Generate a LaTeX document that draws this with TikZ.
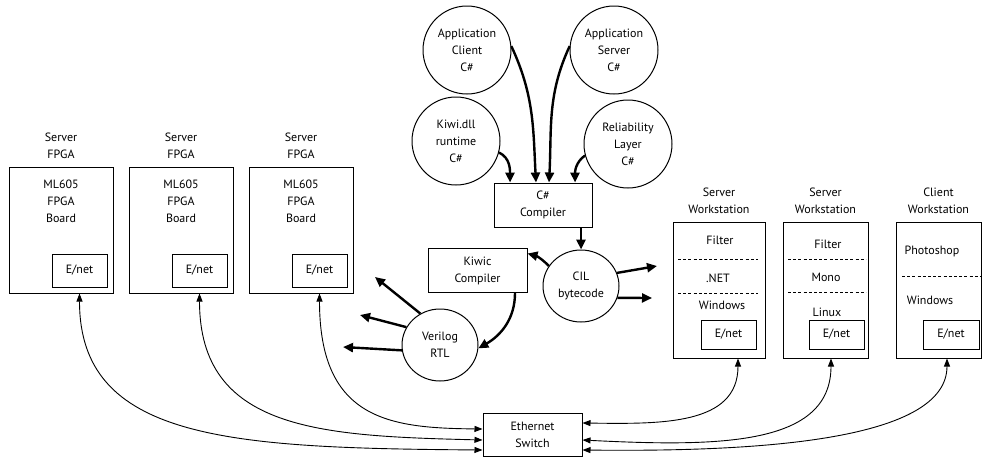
\documentclass[tikz,border=0pt]{standalone}
\usepackage{fontspec}
\setmainfont{PT Sans}
\usetikzlibrary{arrows.meta, positioning, shapes.geometric}

\tikzset{
  every node/.style={font=\fontsize{12}{17}\selectfont, inner sep=0pt},
  hostbox/.style={draw, line width=1pt},
  enetbox/.style={draw, line width=1pt, minimum width=55pt},
  toolbox/.style={draw, line width=1pt, align=center, minimum width=99pt, minimum height=44pt},
  srccircle/.style={draw, circle, line width=1pt, align=center, minimum size=88pt},
  codeblob/.style={draw, ellipse, line width=1pt, align=center, minimum width=76pt, minimum height=72pt},
  flow/.style={line width=2.4pt, -{Triangle[length=10pt,width=9pt]}},
  wire/.style={line width=0.9pt, {Triangle[length=8pt,width=6pt]}-{Triangle[length=8pt,width=6pt]}},
  layer/.style={line width=0.9pt, dash pattern=on 3pt off 2.2pt},
}

\begin{document}
\begin{tikzpicture}[x=1pt, y=-1pt]
  \useasboundingbox (0,0) rectangle (982,458);

  % FPGA servers
  \foreach \i/\x in {1/61, 2/181, 3/301} {
    \node[hostbox, minimum width=104pt, minimum height=126pt] (fpga\i) at (\x,230) {};
    \node[align=center, above=8pt of fpga\i] (fpgatitle\i) {Server\\FPGA};
    \node[align=center, below=13pt of fpga\i.north] (board\i) {ML605\\FPGA\\Board};
    \node[enetbox, minimum height=33pt, anchor=south east, xshift=-6pt, yshift=6pt] (fenet\i) at (fpga\i.south east) {E/net};
  }

  % C# sources and tool chain
  \node[srccircle] (appclient) at (467,50) {Application\\Client\\C\#};
  \node[srccircle] (appserver) at (614,50) {Application\\Server\\C\#};
  \node[srccircle] (kiwidll) at (456,141) {Kiwi.dll\\runtime\\C\#};
  \node[srccircle] (reliab) at (628,144) {Reliability\\Layer\\C\#};
  \node[toolbox, minimum width=98pt] (cscomp) at (543,205) {C\#\\Compiler};
  \node[codeblob] (cil) at (581,286) {CIL\\bytecode};
  \node[toolbox] (kiwic) at (477.5,270.5) {Kiwic\\Compiler};
  \node[codeblob] (verilog) at (440,345) {Verilog\\RTL};

  % workstations
  \node[hostbox, minimum width=92pt, minimum height=136pt] (ws1) at (719,290) {};
  \node[hostbox, minimum width=85pt, minimum height=136pt] (ws2) at (825.5,290) {};
  \node[hostbox, minimum width=85pt, minimum height=136pt] (ws3) at (938.5,290) {};
  \node[align=center, above=8pt of ws1] (wstitle1) {Server\\Workstation};
  \node[align=center, above=8pt of ws2] (wstitle2) {Server\\Workstation};
  \node[align=center, above=8pt of ws3] (wstitle3) {Client\\Workstation};

  \node (filter1) at (720,240) {Filter};
  \node (dotnet) at (718,278) {.NET};
  \node (windows1) at (722,305) {Windows};
  \draw[layer] (678,259) -- (758,259);
  \draw[layer] (678,293) -- (758,293);
  \node (filter2) at (828,244) {Filter};
  \node (mono) at (826,277) {Mono};
  \node (linux) at (827,312) {Linux};
  \draw[layer] (788,259) -- (866,259);
  \draw[layer] (788,292) -- (866,292);
  \node (photoshop) at (932,251) {Photoshop};
  \node (windows3) at (930,300) {Windows};
  \draw[layer] (902,276) -- (981,276);

  \node[enetbox, minimum height=29pt] (wenet1) at (728.5,334.5) {E/net};
  \node[enetbox, minimum height=29pt] (wenet2) at (836.5,334.5) {E/net};
  \node[enetbox, minimum height=29pt, minimum width=56pt] (wenet3) at (951,334.5) {E/net};

  \node[toolbox, minimum height=43pt] (switch) at (532.5,434.5) {Ethernet\\Switch};

  % compile flow
  \draw[flow] (kiwidll.-15) to[out=-25, in=90] ([xshift=-33pt]cscomp.north);
  \draw[flow] (appclient.5) to[out=-65, in=93] ([xshift=-7pt]cscomp.north);
  \draw[flow] (appserver.175) to[out=-115, in=87] ([xshift=6pt]cscomp.north);
  \draw[flow] (reliab.195) to[out=-145, in=90] ([xshift=32pt]cscomp.north);
  \draw[flow] (cscomp.south -| cil.north) -- (cil.north);
  \draw[flow] (cil.148) to[bend right=15] ([yshift=17pt]kiwic.east);
  \draw[flow] ([xshift=37.5pt]kiwic.south) to[out=-90, in=30] (verilog.-5);

  \coordinate (winA) at (657,266);
  \coordinate (winB) at (652,298);
  \draw[flow] (cil.20) -- (winA);
  \draw[flow] (cil.-18) -- (winB);

  \coordinate (fpgaA) at (375,277);
  \coordinate (fpgaB) at (360,315);
  \coordinate (fpgaC) at (343,347);
  \draw[flow] (verilog.122) -- (fpgaA);
  \draw[flow] (verilog.152) -- (fpgaB);
  \draw[flow] (verilog.188) -- (fpgaC);

  % network
  \draw[wire] (fenet1 |- fpga1.south) .. controls +(0,147) and +(-252,-2) .. ([yshift=-15.5pt]switch.west);
  \draw[wire] (fenet2 |- fpga2.south) .. controls +(0,137) and +(-162,-4) .. ([yshift=-5.5pt]switch.west);
  \draw[wire] (fenet3 |- fpga3.south) .. controls +(0,127) and +(-92,-1) .. ([yshift=5.5pt]switch.west);
  \draw[wire] ([xshift=19pt]ws1.south) .. controls +(0,67) and +(78,1) .. ([yshift=11.5pt]switch.east);
  \draw[wire] ([xshift=5.5pt]ws2.south) .. controls +(0,87) and +(138,7) .. ([yshift=-5.5pt]switch.east);
  \draw[wire] ([xshift=8.5pt]ws3.south) .. controls +(0,82) and +(178,2) .. ([yshift=-15.5pt]switch.east);
\end{tikzpicture}
\end{document}
